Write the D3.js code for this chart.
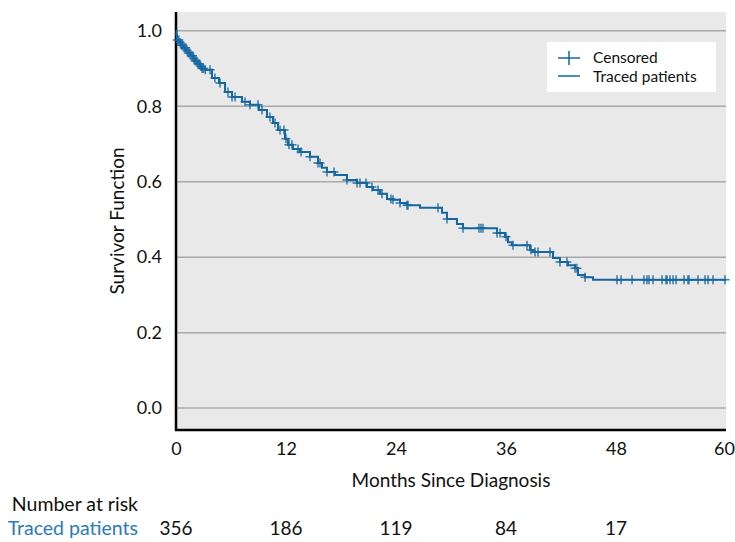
<!DOCTYPE html>
<html>
<head>
<meta charset="utf-8">
<script src="https://cdn.jsdelivr.net/npm/d3@7"></script>
<style>
  body { margin: 0; background: #fff; }
  text { font-family: Lato, "Noto Sans", sans-serif; }
</style>
</head>
<body>
<div id="chart"></div>
<script>
// Kaplan-Meier steps (months, survival after the drop)
const eventMonths = [0, 0.05, 0.1, 0.35, 0.6, 0.85, 1.1, 1.35, 1.6, 1.85, 2.1, 2.35, 2.6, 2.85, 3.16,
  3.93, 4.69, 5.35, 6.11, 7.2, 8.07, 9.05, 9.93, 10.58, 11.13, 11.89, 12.22, 12.76, 13.53,
  14.62, 15.49, 15.93, 16.47, 17.35, 18.65, 19.75, 20.84, 21.49, 22.25, 23.02, 23.67, 24.44,
  25.2, 26.62, 29.02, 29.56, 30.65, 31.31, 35.02, 35.89, 36.22, 36.65, 38.62, 38.95, 41.13,
  41.89, 42.76, 43.53, 43.85, 44.62, 45.49, 60];
const survival = [1.0, 0.99, 0.976, 0.969, 0.962, 0.955, 0.948, 0.941, 0.934, 0.927, 0.92, 0.913, 0.906, 0.90, 0.897,
  0.875, 0.862, 0.838, 0.825, 0.812, 0.804, 0.79, 0.772, 0.756, 0.737, 0.714, 0.698, 0.687, 0.679,
  0.666, 0.65, 0.637, 0.626, 0.618, 0.605, 0.597, 0.586, 0.578, 0.568, 0.554, 0.552, 0.544,
  0.538, 0.531, 0.518, 0.501, 0.488, 0.477, 0.464, 0.454, 0.44, 0.432, 0.419, 0.414, 0.398,
  0.387, 0.379, 0.371, 0.353, 0.347, 0.34, 0.34];

// Censored observations (months)
const censorMonths = [0.15, 0.3, 0.45, 0.6, 0.75, 0.9, 1.05, 1.2, 1.35, 1.5, 1.65, 1.8, 1.95, 2.1,
  2.25, 2.4, 2.55, 2.7, 2.85, 3.0, 3.2, 3.71, 4.25, 4.8, 5.67, 6.11, 6.44, 7.53, 8.07, 8.95,
  9.38, 10.25, 10.8, 11.35, 11.78, 12.0, 12.33, 12.65, 13.31, 13.64, 14.62, 15.49, 15.71,
  16.47, 17.24, 18.65, 19.75, 20.07, 20.73, 21.38, 22.04, 22.47, 23.45, 23.67, 24.44, 25.2,
  25.31, 28.58, 29.56, 31.31, 33.05, 33.27, 33.49, 35.02, 35.35, 36.0, 36.76, 38.29, 38.73,
  39.16, 39.49, 40.8, 41.89, 42.65, 43.53, 43.74, 44.62, 48.11, 48.55, 49.75, 51.05, 51.38,
  51.6, 52.04, 53.02, 53.45, 53.56, 53.89, 54.22, 54.55, 55.42, 55.85, 55.96, 56.95, 57.71,
  58.04, 58.58, 59.89];

const xTicks = [0, 12, 24, 36, 48, 60];
const yTicks = [0.0, 0.2, 0.4, 0.6, 0.8, 1.0];
const riskMonths = [0, 12, 24, 36, 48];
const riskCounts = [356, 186, 119, 84, 17];

const LINE_COLOR = "#15679f";
const WIDTH = 735, HEIGHT = 542;
const FONT = 19;

var svg = d3.select("#chart").append("svg")
  .attr("width", WIDTH)
  .attr("height", HEIGHT);

var x = d3.scaleLinear().domain([0, 60]).range([176, 726]);
var y = d3.scaleLinear().domain([-0.058, 1.05]).range([430, 12]);

// Plot background
svg.append("rect")
  .attr("x", x(0)).attr("y", y(1.05))
  .attr("width", x(60) - x(0)).attr("height", y(-0.058) - y(1.05))
  .attr("fill", "#e9e9e9");

// Horizontal gridlines
svg.selectAll("line.grid")
  .data(yTicks)
  .enter().append("line")
  .attr("class", "grid")
  .attr("x1", x(0)).attr("x2", x(60))
  .attr("y1", d => y(d)).attr("y2", d => y(d))
  .attr("stroke", "#a9a9a9")
  .attr("stroke-width", 1.5);

// Axes: labels only, the frame lines drawn separately
var yAxis = svg.append("g")
  .attr("transform", `translate(${x(0)},0)`)
  .call(d3.axisLeft(y).tickValues(yTicks).tickFormat(d3.format(".1f")).tickSize(0).tickPadding(14));
var xAxis = svg.append("g")
  .attr("transform", `translate(0,${y(-0.058)})`)
  .call(d3.axisBottom(x).tickValues(xTicks).tickSize(0).tickPadding(12));
[yAxis, xAxis].forEach(a => {
  a.select(".domain").remove();
  a.selectAll("text").attr("font-size", 18).attr("fill", "#111")
    .style("font-family", "Lato, 'Noto Sans', sans-serif");
});
// keep the last x label inside the page
xAxis.selectAll(".tick").filter(d => d === 60).select("text").attr("dx", -2);

svg.append("line")
  .attr("x1", x(0)).attr("x2", x(0)).attr("y1", y(1.05)).attr("y2", y(-0.058) + 1)
  .attr("stroke", "#000").attr("stroke-width", 2.5);
svg.append("line")
  .attr("x1", x(0) - 1).attr("x2", x(60)).attr("y1", y(-0.058)).attr("y2", y(-0.058))
  .attr("stroke", "#000").attr("stroke-width", 2.5);

// Survival curve
var steps = eventMonths.map((t, i) => [t, survival[i]]);
svg.append("path")
  .datum(steps)
  .attr("fill", "none")
  .attr("stroke", LINE_COLOR)
  .attr("stroke-width", 2)
  .attr("d", d3.line().x(d => x(d[0])).y(d => y(d[1])).curve(d3.curveStepAfter));

// Survival at a given time, from the step data
function survAt(t) {
  var s = 1;
  for (var i = 0; i < eventMonths.length; i++) {
    if (eventMonths[i] <= t) s = survival[i];
  }
  return s;
}

// Censor marks (plus signs)
var cs = 4.5;
svg.append("g").selectAll("path")
  .data(censorMonths)
  .enter().append("path")
  .attr("d", d => {
    var cx = x(d), cy = y(survAt(d));
    return `M${cx - cs},${cy}H${cx + cs}M${cx},${cy - cs}V${cy + cs}`;
  })
  .attr("stroke", LINE_COLOR)
  .attr("stroke-width", 1.5)
  .attr("opacity", 0.85);

// Legend
var legend = svg.append("g").attr("transform", "translate(547,42)");
legend.append("rect").attr("width", 169).attr("height", 50).attr("fill", "#fff");
legend.append("path").attr("d", "M11,16H33M22,9V23").attr("stroke", LINE_COLOR).attr("stroke-width", 1.5);
legend.append("line").attr("x1", 11).attr("x2", 33).attr("y1", 34).attr("y2", 34)
  .attr("stroke", LINE_COLOR).attr("stroke-width", 1.5);
legend.append("text").attr("x", 46).attr("y", 21).attr("font-size", 15.5).attr("fill", "#111").text("Censored");
legend.append("text").attr("x", 46).attr("y", 39.5).attr("font-size", 15.5).attr("fill", "#111").text("Traced patients");

// Axis titles
svg.append("text")
  .attr("transform", `translate(124,${(y(1.05) + y(-0.058)) / 2}) rotate(-90)`)
  .attr("text-anchor", "middle")
  .attr("font-size", FONT).attr("fill", "#111")
  .text("Survivor Function");
svg.append("text")
  .attr("x", (x(0) + x(60)) / 2).attr("y", 487)
  .attr("text-anchor", "middle")
  .attr("font-size", FONT).attr("fill", "#111")
  .text("Months Since Diagnosis");

// Number at risk table
svg.append("text")
  .attr("x", 138).attr("y", 511)
  .attr("text-anchor", "end")
  .attr("font-size", FONT + 0.5).attr("fill", "#111")
  .text("Number at risk");
svg.append("text")
  .attr("x", 138).attr("y", 535)
  .attr("text-anchor", "end")
  .attr("font-size", FONT + 0.5).attr("fill", "#2b7bba")
  .text("Traced patients");
svg.append("g").selectAll("text")
  .data(riskCounts)
  .enter().append("text")
  .attr("x", (d, i) => x(riskMonths[i]))
  .attr("y", 535)
  .attr("text-anchor", "middle")
  .attr("font-size", FONT).attr("fill", "#111")
  .text(d => d);
</script>
</body>
</html>
